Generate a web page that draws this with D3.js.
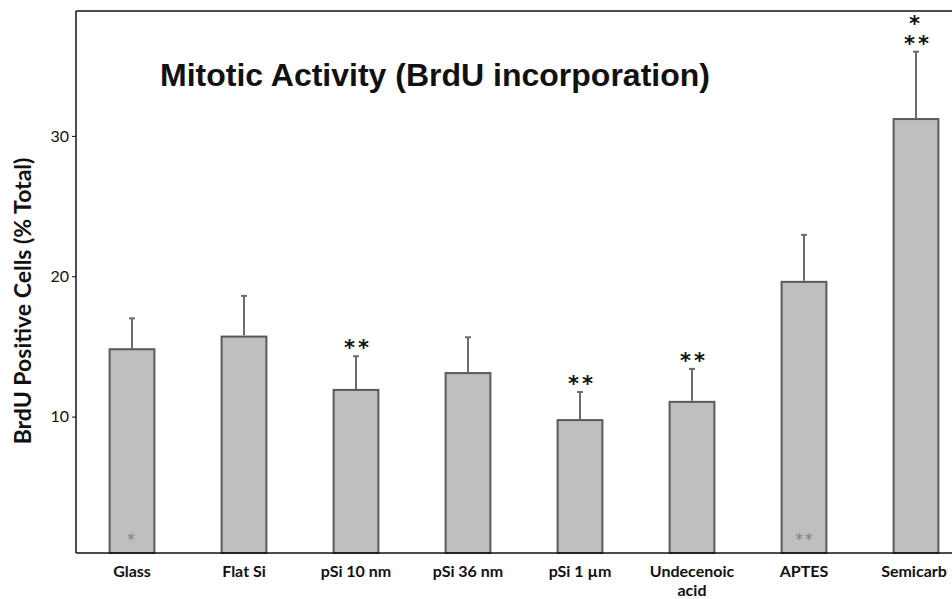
<!DOCTYPE html>
<html>
<head>
<meta charset="utf-8">
<script src="https://cdn.jsdelivr.net/npm/d3@7"></script>
<style>
  body { margin: 0; background: #fff; }
  svg { display: block; }
  .tick text { font-family: Lato, sans-serif; font-size: 16px; fill: #111; }
</style>
</head>
<body>
<svg width="952" height="599"></svg>
<script>
// data
const categories = ["Glass", "Flat Si", "pSi 10 nm", "pSi 36 nm", "pSi 1 \u00b5m", "Undecenoic acid", "APTES", "Semicarb"];
const means = [14.8, 15.7, 11.9, 13.1, 9.75, 11.05, 19.6, 31.2];
const errors = [2.2, 2.9, 2.4, 2.55, 2.0, 2.35, 3.35, 4.8];
const topMarks = ["", "", "**", "", "**", "**", "", "*\n**"];
const innerMarks = ["*", "", "", "", "", "", "**", ""];
const yTicks = [10, 20, 30];

const svg = d3.select("svg");
const plotLeft = 76, plotTop = 11, plotBottom = 553, plotRight = 972;

const x = d3.scaleBand()
    .domain(categories)
    .range([plotLeft, plotRight])
    .paddingInner(0.6)
    .paddingOuter(0.3);

const y = d3.scaleLinear()
    .domain([0.28, 38.9])
    .range([plotBottom, plotTop]);

// bars
svg.selectAll("rect.bar")
    .data(categories)
    .join("rect")
    .attr("class", "bar")
    .attr("x", d => x(d))
    .attr("y", (d, i) => y(means[i]))
    .attr("width", x.bandwidth())
    .attr("height", (d, i) => plotBottom - y(means[i]))
    .attr("fill", "#bfbfbf")
    .attr("stroke", "#595959")
    .attr("stroke-width", 2);

// error bars
const cx = d => x(d) + x.bandwidth() / 2;
svg.selectAll("line.err")
    .data(categories)
    .join("line")
    .attr("class", "err")
    .attr("x1", cx).attr("x2", cx)
    .attr("y1", (d, i) => y(means[i]) - 1)
    .attr("y2", (d, i) => y(means[i] + errors[i]))
    .attr("stroke", "#6b6b6b")
    .attr("stroke-width", 2);

svg.selectAll("line.cap")
    .data(categories)
    .join("line")
    .attr("class", "cap")
    .attr("x1", d => cx(d) - 3).attr("x2", d => cx(d) + 3)
    .attr("y1", (d, i) => y(means[i] + errors[i]))
    .attr("y2", (d, i) => y(means[i] + errors[i]))
    .attr("stroke", "#6b6b6b")
    .attr("stroke-width", 2);

// significance marks above the error bars
categories.forEach((c, i) => {
    if (!topMarks[i]) return;
    const lines = topMarks[i].split("\n");
    lines.forEach((l, j) => {
        svg.append("text")
            .attr("x", cx(c) + (l.length > 1 ? 2 : 0))
            .attr("y", y(means[i] + errors[i]) - 1 - (lines.length - 1 - j) * 20)
            .attr("text-anchor", "middle")
            .attr("font-family", "DejaVu Sans, sans-serif")
            .attr("font-weight", "bold")
            .attr("font-size", 21)
            .attr("letter-spacing", 3)
            .attr("fill", "#111")
            .text(l);
    });
});

// grey marks inside bars
categories.forEach((c, i) => {
    if (!innerMarks[i]) return;
    svg.append("text")
        .attr("x", cx(c) + (innerMarks[i].length > 1 ? 1 : 0))
        .attr("y", plotBottom - 8)
        .attr("text-anchor", "middle")
        .attr("font-family", "DejaVu Sans, sans-serif")
        .attr("font-size", 15)
        .attr("letter-spacing", 2)
        .attr("fill", "#808080")
        .text(innerMarks[i]);
});

// frame
svg.append("line").attr("x1", plotLeft).attr("x2", 952).attr("y1", plotTop).attr("y2", plotTop)
    .attr("stroke", "#111").attr("stroke-width", 1.5);
svg.append("line").attr("x1", plotLeft).attr("x2", 952).attr("y1", plotBottom).attr("y2", plotBottom)
    .attr("stroke", "#111").attr("stroke-width", 1.5);

// y axis
const yAxis = svg.append("g")
    .attr("transform", `translate(${plotLeft},0)`)
    .call(d3.axisLeft(y).tickValues(yTicks).tickSize(4).tickPadding(3));
yAxis.select(".domain").attr("stroke", "#111").attr("stroke-width", 1.5)
    .attr("d", `M0,${plotTop}V${plotBottom}`);
yAxis.selectAll(".tick line").attr("stroke", "#111");

// x labels
categories.forEach(c => {
    const words = c === "Undecenoic acid" ? ["Undecenoic", "acid"] : [c];
    words.forEach((w, j) => {
        svg.append("text")
            .attr("x", cx(c) - (c === "Semicarb" ? 2 : 0))
            .attr("y", 577 + j * 19)
            .attr("text-anchor", "middle")
            .attr("font-family", "Lato, sans-serif")
            .attr("font-weight", "bold")
            .attr("font-size", 16)
            .attr("fill", "#111")
            .text(w);
    });
});

// y title
svg.append("text")
    .attr("transform", `translate(31,301) rotate(-90)`)
    .attr("text-anchor", "middle")
    .attr("font-family", "Lato, sans-serif")
    .attr("font-weight", "bold")
    .attr("font-size", 23)
    .attr("fill", "#111")
    .text("BrdU Positive Cells (% Total)");

// chart title
svg.append("text")
    .attr("x", 160)
    .attr("y", 86)
    .attr("font-family", "Liberation Sans, Arial, sans-serif")
    .attr("font-weight", "bold")
    .attr("font-size", 32)
    .attr("fill", "#111")
    .text("Mitotic Activity (BrdU incorporation)");
</script>
</body>
</html>
